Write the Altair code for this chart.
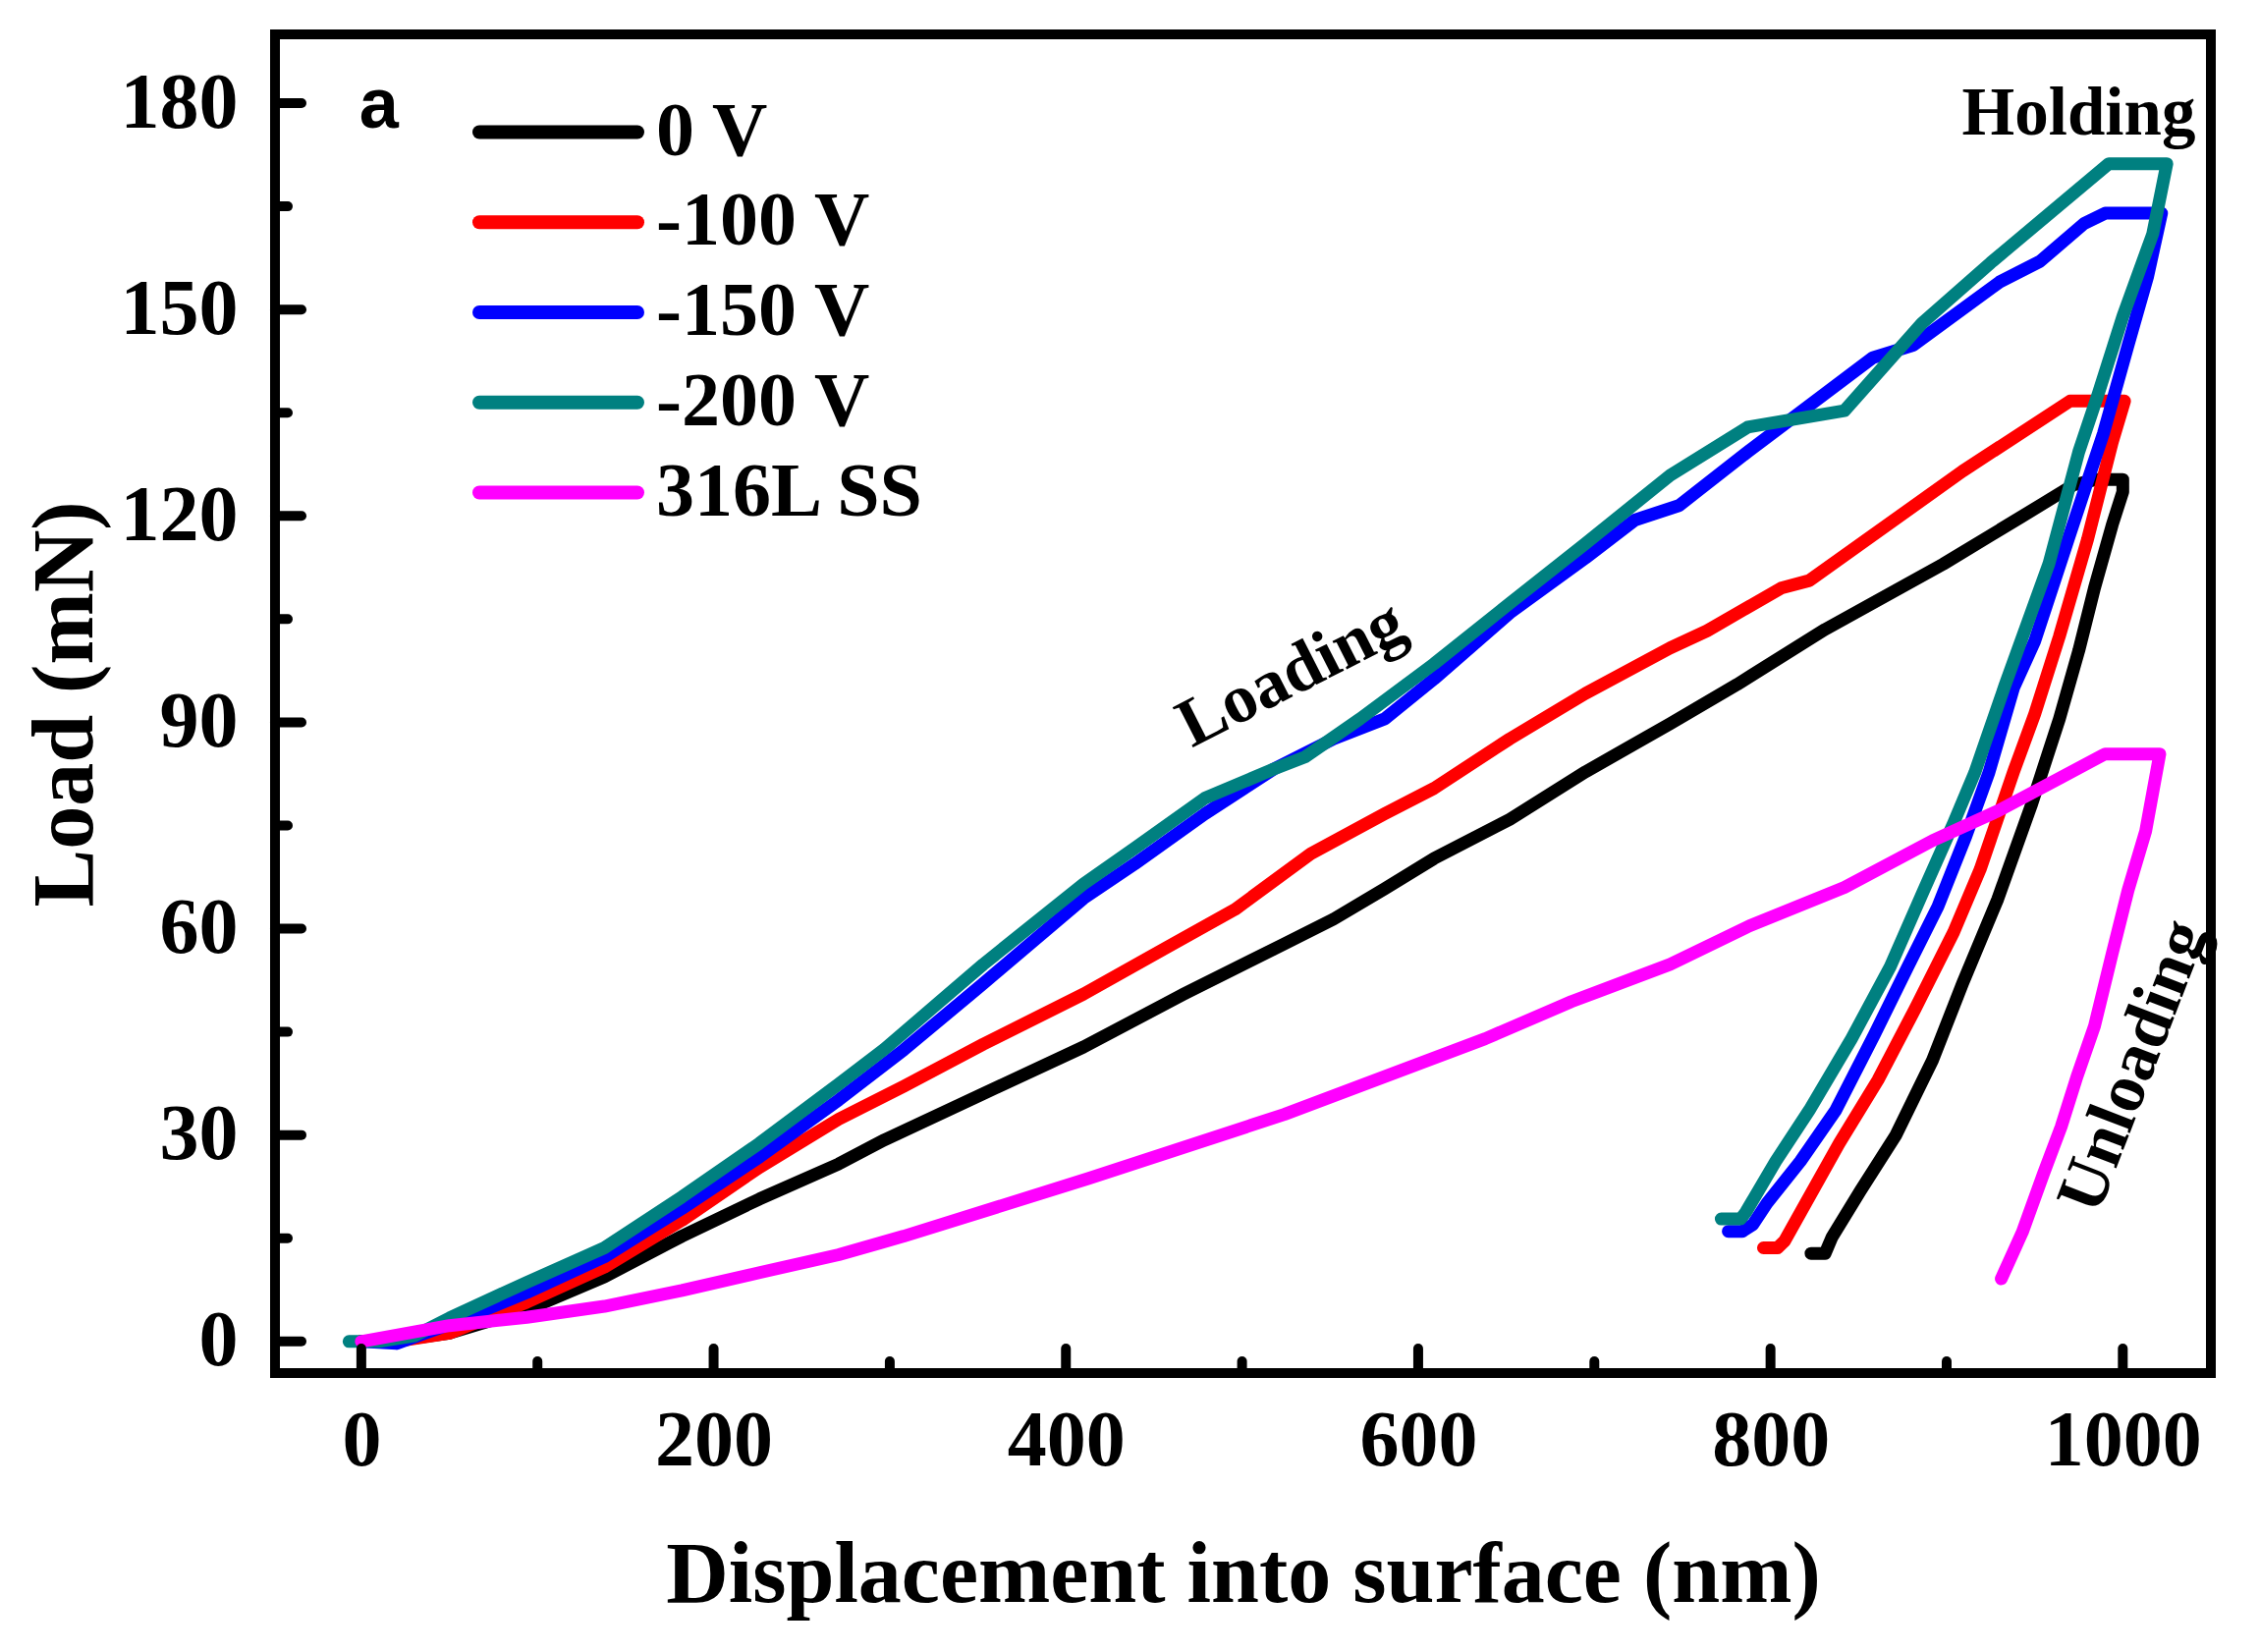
import altair as alt
import pandas as pd

# series (displacement nm, load mN), in drawing order
names = ["0 V", "-100 V", "-150 V", "-200 V", "316L SS"]
colors = ["#000000", "#ff0000", "#0000ff", "#008080", "#ff00ff"]

x_0v = [0, 25, 50, 94, 138, 182, 226, 271, 297, 353, 410, 467, 524, 552, 581, 609, 652,
        695, 743, 781, 831, 898, 942, 972, 985, 1000, 1000, 994, 984, 975, 964, 948, 929,
        909, 892, 871, 851, 835, 831, 823]
y_0v = [0, 0.3, 1.2, 4.6, 9.4, 15.3, 20.7, 25.8, 29.3, 36, 42.8, 50.5, 57.8, 61.4, 65.8, 70.2,
        75.9, 82.8, 89.8, 95.5, 103.5, 113, 119.8, 124.5, 125.3, 125.3, 123.5, 118.7,
        109.6, 100.4, 90.5, 77.9, 64.3, 52, 40.9, 29.9, 21.9, 15.2, 12.8, 12.8]

x_100 = [0, 25, 50, 94, 138, 182, 226, 271, 308, 353, 410, 456, 496, 539, 581, 609, 652, 695,
         743, 764, 806, 822, 909, 970, 1001, 994, 980, 964, 950, 938, 919, 904, 882, 861, 839,
         820, 808, 804, 796]
y_100 = [0, 0.2, 1.2, 5.7, 10.8, 17.6, 25.3, 32.3, 37.1, 43.2, 50.5, 57.1, 62.8, 70.9, 76.7,
         80.4, 87.6, 94.2, 100.8, 103.3, 109.5, 110.6, 126.5, 136.7, 136.7, 130.7, 116.6,
         102.5, 91.2, 82.8, 68.6, 59.5, 48.3, 38, 28.8, 20.1, 14.6, 13.6, 13.6]

x_150 = [0, 20, 50, 94, 138, 182, 226, 271, 308, 353, 410, 439, 479, 518, 552, 581, 609, 652,
         695, 723, 748, 787, 858, 881, 930, 953, 978, 990, 1022, 1014, 1003, 989, 969, 950,
         938, 924, 911, 895, 878, 859, 837, 817, 798, 790, 784, 776]
y_150 = [0, -0.3, 2.5, 7.1, 12.3, 19.3, 26.8, 35.1, 42.4, 52, 64.4, 69.4, 76.7, 83.2, 87.6,
         90.5, 96.3, 105.9, 113.9, 119.4, 121.5, 129.3, 143, 144.8, 154, 157, 162.5, 164, 164,
         154.7, 144.8, 132, 116.6, 101.8, 95, 82.7, 73.5, 63.2, 54.5, 44.6, 33.6, 26.2, 20.1,
         17, 16, 16]

x_200 = [-7, 10, 30, 50, 94, 138, 182, 226, 271, 297, 353, 410, 439, 479, 518, 536, 567, 609,
         652, 695, 743, 787, 842, 886, 925, 992, 1025, 1017, 1000, 986, 975, 958, 933, 916,
         904, 887, 868, 846, 822, 803, 786, 783, 772]
y_200 = [0, 0, 0.8, 3.4, 8.6, 13.6, 21, 28.8, 37.4, 42.5, 54.8, 66.5, 71.7, 79, 83.2, 85,
         90.5, 98.5, 107.3, 116, 125.9, 132.9, 135.3, 148, 156.8, 171.2, 171.2, 161, 149,
         137.7, 129.3, 113, 95.3, 82.7, 75.4, 65.6, 54.5, 44, 33.6, 26.2, 18.8, 17.8, 17.8]

x_ss = [0, 50, 94, 138, 182, 226, 271, 308, 413, 524, 638, 687, 743, 788, 842, 892, 929, 965,
        990, 1021, 1013, 1003, 994, 984, 974, 965, 955, 943, 931]
y_ss = [0, 2.3, 3.5, 5.1, 7.4, 10, 12.6, 15.3, 23.7, 33, 44, 49.4, 54.8, 60.4, 66, 72.8, 77.1,
        82, 85.4, 85.4, 74.2, 65.6, 56.4, 45.9, 38.5, 31.2, 24.4, 15.9, 9.1]

series_x = [x_0v, x_100, x_150, x_200, x_ss]
series_y = [y_0v, y_100, y_150, y_200, y_ss]

x_major = [0, 200, 400, 600, 800, 1000]
x_minor = [100, 300, 500, 700, 900]
y_major = [0, 30, 60, 90, 120, 150, 180]
y_minor = [15, 45, 75, 105, 135, 165]

notes = ["a", "Holding", "Loading", "Unloading"]
notes_x = [10, 975, 528, 1006]
notes_y = [176.4, 175.4, 97, 40]

W, H = 1971, 1363
serif = "Liberation Serif"

xscale = alt.Scale(domain=[-49, 1050], nice=False, zero=False)
yscale = alt.Scale(domain=[-4.6, 190], nice=False, zero=False)
xaxis = alt.Axis(values=x_major, format="d", title="Displacement into surface (nm)",
                 labelPadding=93, labelBaseline="alphabetic", labelFlush=False, labelLimit=500,
                 titleY=232, titleBaseline="alphabetic")
yaxis = alt.Axis(values=y_major, format="d", title="Load (mN)", labelPadding=38,
                 labelBaseline="middle", labelLimit=500,
                 titleX=-187, titleY=H / 2, titleAngle=270, titleAlign="center",
                 titleBaseline="alphabetic")
X = alt.X("x:Q", scale=xscale, axis=xaxis)
Y = alt.Y("y:Q", scale=yscale, axis=yaxis)

layers = []
for name, color, xs, ys in zip(names, colors, series_x, series_y):
    df = pd.DataFrame({"x": xs, "y": ys, "i": range(len(xs))})
    layers.append(
        alt.Chart(df).mark_line(color=color, strokeWidth=13, strokeCap="round",
                                strokeJoin="round").encode(x=X, y=Y, order="i:Q")
    )

# inward ticks on left and bottom
tick = dict(color="black", strokeWidth=10, strokeCap="round")
layers.append(alt.Chart(pd.DataFrame({"y": y_major})).mark_rule(**tick).encode(
    x=alt.value(0), x2=alt.value(27), y=Y))
layers.append(alt.Chart(pd.DataFrame({"y": y_minor})).mark_rule(**tick).encode(
    x=alt.value(0), x2=alt.value(13), y=Y))
layers.append(alt.Chart(pd.DataFrame({"x": x_major})).mark_rule(**tick).encode(
    x=X, y=alt.value(H), y2=alt.value(H - 25)))
layers.append(alt.Chart(pd.DataFrame({"x": x_minor})).mark_rule(**tick).encode(
    x=X, y=alt.value(H), y2=alt.value(H - 12)))

note_df = pd.DataFrame({"x": notes_x, "y": notes_y, "t": notes})
note_styles = [
    dict(font="Liberation Sans", fontSize=72, baseline="alphabetic"),
    dict(font=serif, fontSize=69, baseline="alphabetic"),
    dict(font=serif, fontSize=70, baseline="middle", angle=333),
    dict(font=serif, fontSize=70, baseline="middle", angle=291),
]
for k, st in enumerate(note_styles):
    layers.append(alt.Chart(note_df.iloc[[k]]).mark_text(
        fontWeight="bold", color="black", align="center", **st).encode(x=X, y=Y, text="t:N"))

main = alt.layer(*layers)

leg = pd.DataFrame({"name": names})
ly = alt.Y("name:N", scale=alt.Scale(type="point", domain=names, range=[99.5, 466.5], padding=0),
           axis=None)
leg_lines = alt.Chart(leg).mark_rule(strokeWidth=14, strokeCap="round").encode(
    x=alt.value(208), x2=alt.value(369), y=ly,
    color=alt.Color("name:N", scale=alt.Scale(domain=names, range=colors), legend=None))
leg_text = alt.Chart(leg).mark_text(align="left", baseline="middle", font=serif,
                                    fontWeight="bold", fontSize=78, color="black").encode(
    x=alt.value(388), y=ly, text="name:N")

chart = alt.layer(main, leg_lines, leg_text).resolve_scale(y="independent").properties(
    width=W, height=H, autosize="none",
    padding={"left": 272, "top": 27, "right": 41, "bottom": 276},
).configure_view(
    stroke="black", strokeWidth=10
).configure_axis(
    domain=False, grid=False, ticks=False, tickSize=0, labelOverlap=False,
    labelFont=serif, labelFontWeight="bold", labelFontSize=80, labelColor="black",
    titleFont=serif, titleFontWeight="bold", titleFontSize=88, titleColor="black",
)

chart.save("out.html", embed_options={"renderer": "svg", "actions": False})
